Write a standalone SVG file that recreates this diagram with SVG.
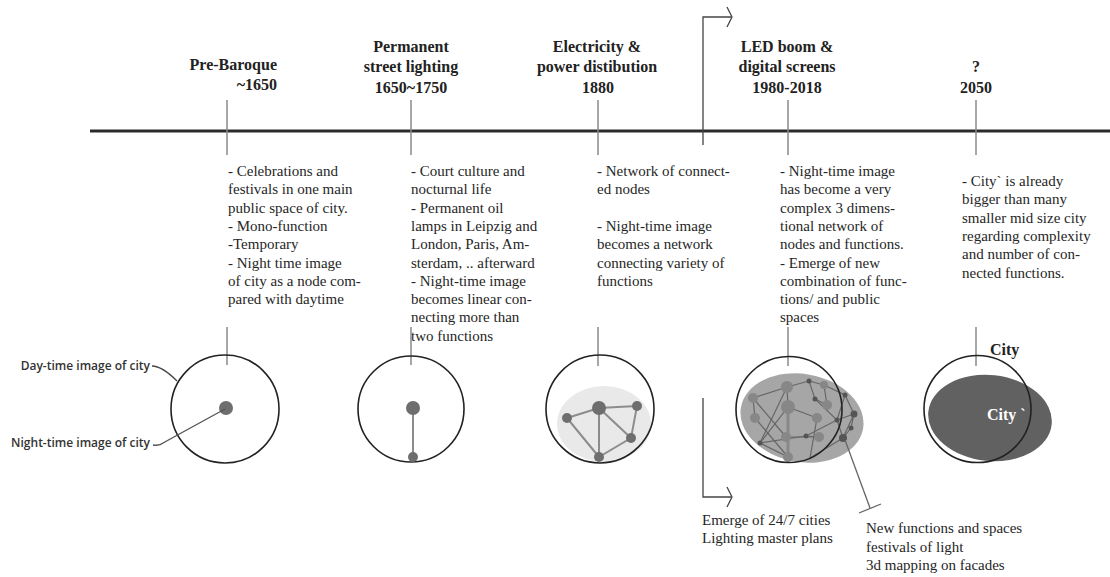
<svg xmlns="http://www.w3.org/2000/svg" width="1110" height="577" viewBox="0 0 1110 577">
  <style>
    .title { font-family: 'Liberation Serif', 'Times New Roman', serif; font-weight: bold; font-size: 16px; fill: #222; text-anchor: middle; }
    .desc { font-family: 'Liberation Serif', 'Times New Roman', serif; font-size: 15px; fill: #262626; }
    .label { font-family: 'Open Sans', 'Noto Sans', sans-serif; font-weight: 600; font-size: 12px; fill: #333; }
    .tick { stroke: #8a8a8a; stroke-width: 1.5; }
    .ring { fill: none; stroke: #222; stroke-width: 1.6; }
    .edge { stroke: #8c8c8c; stroke-width: 2; }
    .edge2 { stroke: #666; stroke-width: 1.2; fill: none; }
    .dot { fill: #6e6e6e; }
    .dot2 { fill: #878787; }
    .sdot { fill: #555; }
    .conn { stroke: #444; stroke-width: 1.3; fill: none; }
  </style>

  <rect width="1110" height="577" fill="#ffffff"/>

  <!-- timeline axis -->
  <line x1="90" y1="131" x2="1110" y2="131" stroke="#2a2a2a" stroke-width="3"/>

  <!-- Pre-Baroque -->
  <g id="pre-baroque">
    <text class="title" x="277" y="70" style="text-anchor:end">Pre-Baroque</text>
    <text class="title" x="277" y="90" style="text-anchor:end">~1650</text>
    <line class="tick" x1="227" y1="100" x2="227" y2="155"/>
    <text class="desc">
      <tspan x="228" y="176">- Celebrations and</tspan>
      <tspan x="228" dy="18.3">festivals in one main</tspan>
      <tspan x="228" dy="18.3">public space of city.</tspan>
      <tspan x="228" dy="18.3">- Mono-function</tspan>
      <tspan x="228" dy="18.3">-Temporary</tspan>
      <tspan x="228" dy="18.3">- Night time image</tspan>
      <tspan x="228" dy="18.3">of city as a node com-</tspan>
      <tspan x="228" dy="18.3">pared with daytime</tspan>
    </text>
    <line class="tick" x1="227" y1="327" x2="227" y2="365"/>
    <circle class="ring" cx="225" cy="409" r="54"/>
    <circle class="dot" cx="226" cy="408" r="7"/>
  </g>

  <!-- Permanent street lighting -->
  <g id="street-lighting">
    <text class="title" x="411" y="52">Permanent</text>
    <text class="title" x="411" y="72">street lighting</text>
    <text class="title" x="411" y="93">1650~1750</text>
    <line class="tick" x1="411" y1="100" x2="411" y2="155"/>
    <text class="desc">
      <tspan x="411" y="176">- Court culture and</tspan>
      <tspan x="411" dy="18.3">nocturnal life</tspan>
      <tspan x="411" dy="18.3">- Permanent oil</tspan>
      <tspan x="411" dy="18.3">lamps in Leipzig and</tspan>
      <tspan x="411" dy="18.3">London, Paris, Am-</tspan>
      <tspan x="411" dy="18.3">sterdam, .. afterward</tspan>
      <tspan x="411" dy="18.3">- Night-time image</tspan>
      <tspan x="411" dy="18.3">becomes linear con-</tspan>
      <tspan x="411" dy="18.3">necting more than</tspan>
      <tspan x="411" dy="18.3">two functions</tspan>
    </text>
    <line class="tick" x1="411" y1="327" x2="411" y2="365"/>
    <circle class="ring" cx="411" cy="409" r="53"/>
    <line class="edge" x1="413" y1="408" x2="413" y2="457"/>
    <circle class="dot" cx="413" cy="408" r="7"/>
    <circle class="dot" cx="413" cy="457" r="5"/>
  </g>

  <!-- Electricity & power distribution -->
  <g id="electricity">
    <text class="title" x="597" y="52">Electricity &amp;</text>
    <text class="title" x="597" y="72">power distibution</text>
    <text class="title" x="598" y="93">1880</text>
    <line class="tick" x1="598" y1="100" x2="598" y2="155"/>
    <text class="desc">
      <tspan x="597" y="176">- Network of connect-</tspan>
      <tspan x="597" dy="18.3">ed nodes</tspan>
      <tspan x="597" y="231">- Night-time image</tspan>
      <tspan x="597" dy="18.3">becomes a network</tspan>
      <tspan x="597" dy="18.3">connecting variety of</tspan>
      <tspan x="597" dy="18.3">functions</tspan>
    </text>
    <ellipse cx="604" cy="424" rx="47" ry="38" fill="#e9e9e9"/>
    <line class="tick" x1="598" y1="327" x2="598" y2="366"/>
    <circle class="ring" cx="600" cy="409" r="54"/>
    <g class="edge">
      <line x1="567" y1="418" x2="599" y2="408"/>
      <line x1="599" y1="408" x2="637" y2="406"/>
      <line x1="599" y1="408" x2="599" y2="457"/>
      <line x1="599" y1="408" x2="631" y2="438"/>
      <line x1="637" y1="406" x2="631" y2="438"/>
      <line x1="631" y1="438" x2="599" y2="457"/>
      <line x1="567" y1="418" x2="599" y2="457"/>
    </g>
    <circle class="dot" cx="599" cy="408" r="7"/>
    <circle class="dot" cx="637" cy="406" r="5"/>
    <circle class="dot" cx="567" cy="418" r="5"/>
    <circle class="dot" cx="599" cy="457" r="5"/>
    <circle class="dot" cx="631" cy="438" r="5"/>
  </g>

  <!-- LED boom & digital screens -->
  <g id="led-boom">
    <text class="title" x="787" y="52">LED boom &amp;</text>
    <text class="title" x="787" y="72">digital screens</text>
    <text class="title" x="787" y="93">1980-2018</text>
    <line class="tick" x1="788" y1="100" x2="788" y2="155"/>
    <text class="desc">
      <tspan x="780" y="176">- Night-time image</tspan>
      <tspan x="780" dy="18.3">has become a very</tspan>
      <tspan x="780" dy="18.3">complex 3 dimens-</tspan>
      <tspan x="780" dy="18.3">tional network of</tspan>
      <tspan x="780" dy="18.3">nodes and functions.</tspan>
      <tspan x="780" dy="18.3">- Emerge of new</tspan>
      <tspan x="780" dy="18.3">combination of func-</tspan>
      <tspan x="780" dy="18.3">tions/ and public</tspan>
      <tspan x="780" dy="18.3">spaces</tspan>
    </text>
    <ellipse cx="802" cy="418" rx="62" ry="44" fill="#a6a6a6" transform="rotate(10 802 418)"/>
    <line class="tick" x1="788" y1="327" x2="788" y2="366"/>
    <g class="edge2">
      <polyline points="753,398 787,387 809,381 824,385 845,395 854,414 851,428 843,438 854,414"/>
      <line x1="788" y1="407" x2="788" y2="457" stroke="#888" stroke-width="3"/>
      <line x1="787" y1="387" x2="788" y2="407"/>
      <line x1="753" y1="398" x2="786" y2="437"/>
      <line x1="755" y1="418" x2="788" y2="457"/>
      <line x1="760" y1="443" x2="788" y2="407"/>
      <polyline points="760,443 806,436 837,420 854,414"/>
      <line x1="786" y1="437" x2="819" y2="437"/>
      <polyline points="809,381 815,399 837,420 843,438"/>
      <line x1="815" y1="399" x2="827" y2="405"/>
      <line x1="788" y1="407" x2="817" y2="418"/>
      <line x1="817" y1="418" x2="810" y2="458"/>
      <line x1="787" y1="387" x2="760" y2="443"/>
      <line x1="845" y1="395" x2="837" y2="420"/>
      <line x1="843" y1="438" x2="810" y2="458"/>
      <line x1="760" y1="443" x2="788" y2="457"/>
      <line x1="753" y1="398" x2="755" y2="418"/>
      <line x1="824" y1="385" x2="827" y2="405"/>
      <line x1="806" y1="436" x2="819" y2="437"/>
    </g>
    <circle class="dot2" cx="787" cy="387" r="6"/>
    <circle class="dot2" cx="753" cy="398" r="5"/>
    <circle class="dot2" cx="788" cy="407" r="7"/>
    <circle class="dot2" cx="755" cy="418" r="5"/>
    <circle class="dot2" cx="827" cy="405" r="5"/>
    <circle class="dot2" cx="817" cy="418" r="5"/>
    <circle class="dot2" cx="824" cy="385" r="4"/>
    <circle class="dot2" cx="786" cy="437" r="5"/>
    <circle class="dot2" cx="819" cy="437" r="5"/>
    <circle class="dot2" cx="788" cy="457" r="5"/>
    <circle class="sdot" cx="809" cy="381" r="2.5"/>
    <circle class="sdot" cx="815" cy="399" r="2.5"/>
    <circle class="sdot" cx="845" cy="395" r="2.5"/>
    <circle class="sdot" cx="854" cy="414" r="3.5"/>
    <circle class="sdot" cx="851" cy="428" r="2.5"/>
    <circle class="sdot" cx="843" cy="438" r="4"/>
    <circle class="sdot" cx="837" cy="420" r="2.5"/>
    <circle class="sdot" cx="806" cy="436" r="2.5"/>
    <circle class="sdot" cx="760" cy="443" r="2.5"/>
    <circle class="ring" cx="789" cy="409.5" r="53"/>
  </g>

  <!-- 2050 -->
  <g id="future-2050">
    <text class="title" x="976" y="72">?</text>
    <text class="title" x="976" y="93">2050</text>
    <line class="tick" x1="976" y1="100" x2="976" y2="155"/>
    <text class="desc">
      <tspan x="962" y="186">- City` is already</tspan>
      <tspan x="962" dy="18.3">bigger than many</tspan>
      <tspan x="962" dy="18.3">smaller mid size city</tspan>
      <tspan x="962" dy="18.3">regarding complexity</tspan>
      <tspan x="962" dy="18.3">and number of con-</tspan>
      <tspan x="962" dy="18.3">nected functions.</tspan>
    </text>
    <ellipse cx="990" cy="418" rx="62" ry="43" fill="#616161" transform="rotate(6 990 418)"/>
    <line class="tick" x1="976" y1="327" x2="976" y2="366"/>
    <circle class="ring" cx="977.5" cy="409" r="53.5"/>
    <text class="title" x="990" y="355" style="text-anchor:start">City</text>
    <text class="title" x="987" y="420" style="text-anchor:start; fill:#ffffff">City `</text>
  </g>

  <!-- side labels -->
  <g id="legend">
    <text class="label" x="150" y="370" style="text-anchor:end">Day-time image of city</text>
    <text class="label" x="150" y="447" style="text-anchor:end">Night-time image of city</text>
  </g>

  <!-- bottom notes -->
  <g id="notes">
    <text class="desc">
      <tspan x="702" y="525">Emerge of 24/7 cities</tspan>
      <tspan x="702" y="543">Lighting master plans</tspan>
    </text>
    <text class="desc">
      <tspan x="866" y="533">New functions and spaces</tspan>
      <tspan x="866" y="551.5">festivals of light</tspan>
      <tspan x="866" y="570">3d mapping on facades</tspan>
    </text>
  </g>

  <!-- connectors -->
  <g id="connectors" class="conn">
    <path d="M152,366 Q162,366 177,381"/>
    <path d="M153,445 Q160,446 163,443 L225,409" stroke="#555"/>
    <path d="M703,145 V17 H731"/>
    <path d="M727,7 L732,17 L727,27"/>
    <path d="M703,398 V497 H731"/>
    <path d="M727,487 L732,497 L727,507"/>
    <path d="M845,440 L870,508" stroke="#666"/>
    <path d="M859,513 L881,504" stroke="#666"/>
  </g>
</svg>
